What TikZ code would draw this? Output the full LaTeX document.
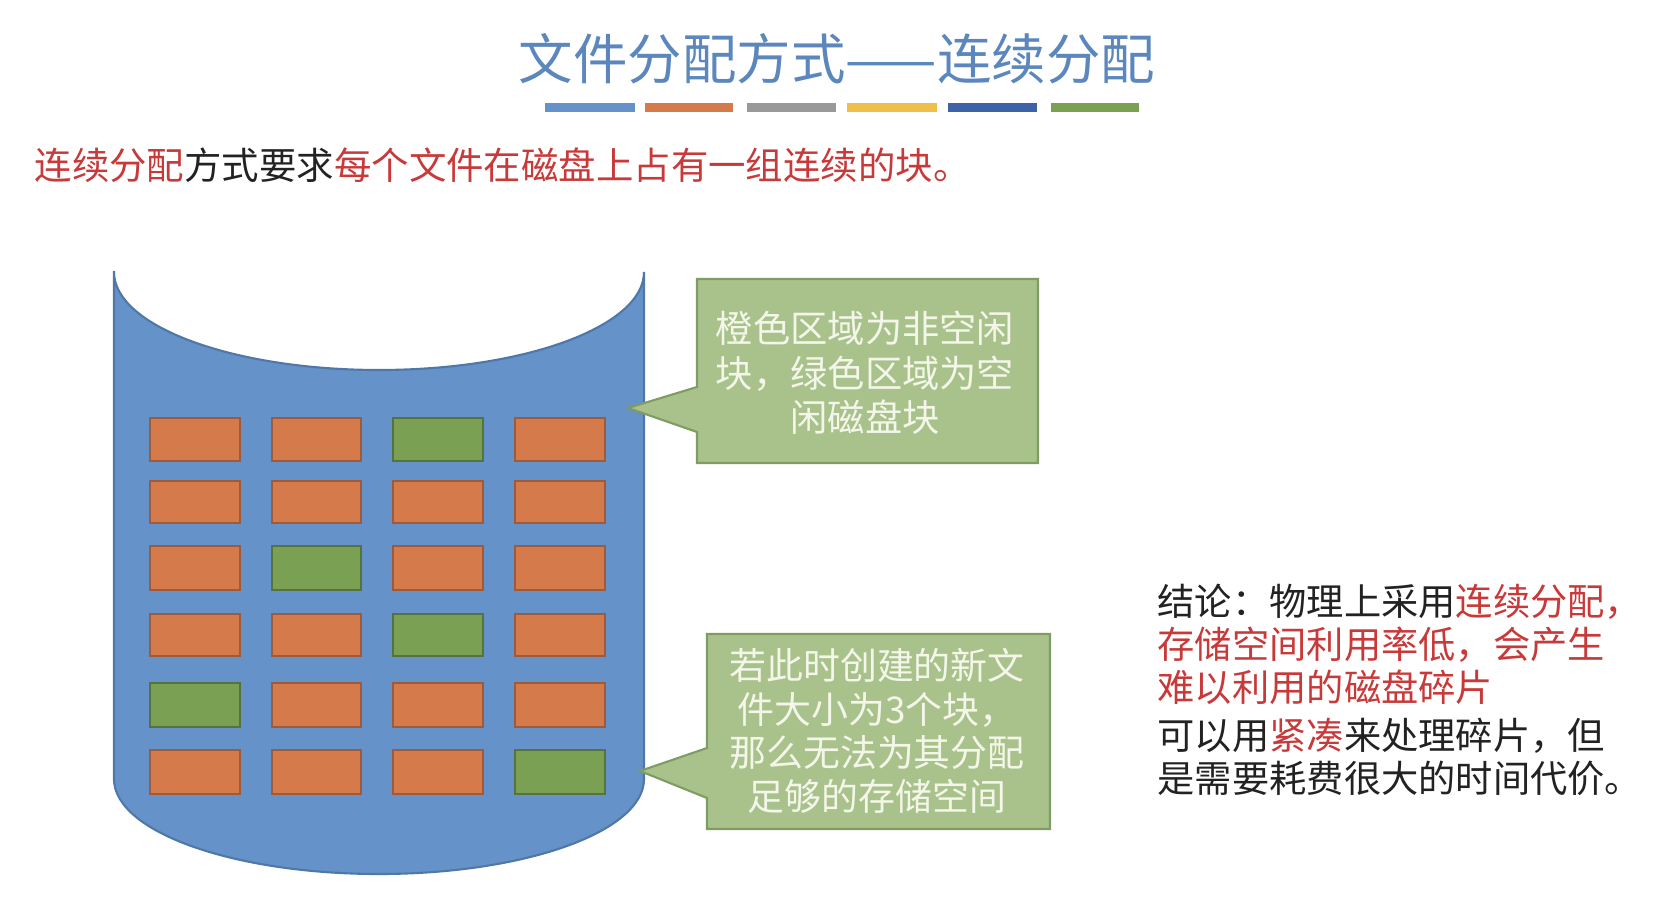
\documentclass[tikz,border=0pt]{standalone}
\usepackage{fontspec}
\setmainfont{Noto Sans CJK SC}
\definecolor{disk}{HTML}{6592C8}
\definecolor{diskline}{HTML}{4F78A8}
\definecolor{used}{HTML}{D57B4B}
\definecolor{usedline}{HTML}{9E5A3A}
\definecolor{free}{HTML}{79A053}
\definecolor{freeline}{HTML}{56733D}
\definecolor{tipfill}{HTML}{A9C28C}
\definecolor{tipline}{HTML}{7F9C63}
\definecolor{tiptext}{HTML}{F3F6E8}
\definecolor{titleblue}{HTML}{5B87BC}
\definecolor{hot}{HTML}{C83A3A}
\definecolor{ink}{HTML}{222222}

\begin{document}
\begin{tikzpicture}[x=0.1mm,y=-0.1mm,
  usedblk/.style={fill=used,draw=usedline,line width=0.5pt},
  freeblk/.style={fill=free,draw=freeline,line width=0.5pt},
  callout/.style={fill=tipfill,draw=tipline,line width=0.6pt},
  tiptxt/.style={text=tiptext,align=center,inner sep=0pt},
  bodytxt/.style={text=ink,inner sep=0pt}]
\useasboundingbox (0,0) rectangle (1671,918);

% title and colour bar
\node[text=titleblue,font=\fontsize{15.5}{18}\selectfont,inner sep=0pt] (title) at (837,59) {文件分配方式——连续分配};
\fill[color=disk] (545,103) rectangle (635,112);
\fill[color=used] (645,103) rectangle (733,112);
\fill[color=gray!80] (747,103) rectangle (836,112);
\fill[color={rgb,255:red,240;green,190;blue,74}] (847,103) rectangle (937,112);
\fill[color={rgb,255:red,62;green,98;blue,168}] (948,103) rectangle (1037,112);
\fill[color=free] (1051,103) rectangle (1139,112);

\node[bodytxt,anchor=west,font=\fontsize{10.65}{12.8}\selectfont] (rule) at (34,165)
  {\textcolor{hot}{连续分配}方式要求\textcolor{hot}{每个文件在磁盘上占有一组连续的块。}};

% disk
\draw[fill=disk,draw=diskline,line width=0.6pt] (114,272) -- (114,779)
  arc[start angle=180,end angle=360,x radius=26.5mm,y radius=9.5mm] -- (644,272)
  arc[start angle=0,end angle=-180,x radius=26.5mm,y radius=9.8mm] -- cycle;

% blocks, row by row
\draw[usedblk] (150,418) rectangle (240,461);
\draw[usedblk] (272,418) rectangle (361,461);
\draw[freeblk] (393,418) rectangle (483,461);
\draw[usedblk] (515,418) rectangle (605,461);

\draw[usedblk] (150,481) rectangle (240,523);
\draw[usedblk] (272,481) rectangle (361,523);
\draw[usedblk] (393,481) rectangle (483,523);
\draw[usedblk] (515,481) rectangle (605,523);

\draw[usedblk] (150,546) rectangle (240,590);
\draw[freeblk] (272,546) rectangle (361,590);
\draw[usedblk] (393,546) rectangle (483,590);
\draw[usedblk] (515,546) rectangle (605,590);

\draw[usedblk] (150,614) rectangle (240,656);
\draw[usedblk] (272,614) rectangle (361,656);
\draw[freeblk] (393,614) rectangle (483,656);
\draw[usedblk] (515,614) rectangle (605,656);

\draw[freeblk] (150,683) rectangle (240,727);
\draw[usedblk] (272,683) rectangle (361,727);
\draw[usedblk] (393,683) rectangle (483,727);
\draw[usedblk] (515,683) rectangle (605,727);

\draw[usedblk] (150,750) rectangle (240,794);
\draw[usedblk] (272,750) rectangle (361,794);
\draw[usedblk] (393,750) rectangle (483,794);
\draw[freeblk] (515,750) rectangle (605,794);

% callouts
\draw[callout] (697,279) -- (1038,279) -- (1038,463) -- (697,463) -- (697,432) -- (628,408) -- (697,387) -- cycle;
\node[tiptxt,font=\fontsize{10.6}{12.7}\selectfont] (legend) at (865,373)
  {橙色区域为非空闲\\块，绿色区域为空\\闲磁盘块};

\draw[callout] (707,634) -- (1050,634) -- (1050,829) -- (707,829) -- (707,798) -- (640,771) -- (707,748) -- cycle;
\node[tiptxt,font=\fontsize{10.5}{12.4}\selectfont] (newfile) at (877,731)
  {若此时创建的新文\\件大小为3个块，\\那么无法为其分配\\足够的存储空间};

% conclusion
\node[bodytxt,anchor=west,align=left,font=\fontsize{10.6}{12.2}\selectfont] (concl) at (1157,690)
  {结论：物理上采用\textcolor{hot}{连续分配，}\\
   \textcolor{hot}{存储空间利用率低，会产生}\\
   \textcolor{hot}{难以利用的磁盘碎片}\\[1.4pt]
   可以用\textcolor{hot}{紧凑}来处理碎片，但\\
   是需要耗费很大的时间代价。};
\end{tikzpicture}
\end{document}
